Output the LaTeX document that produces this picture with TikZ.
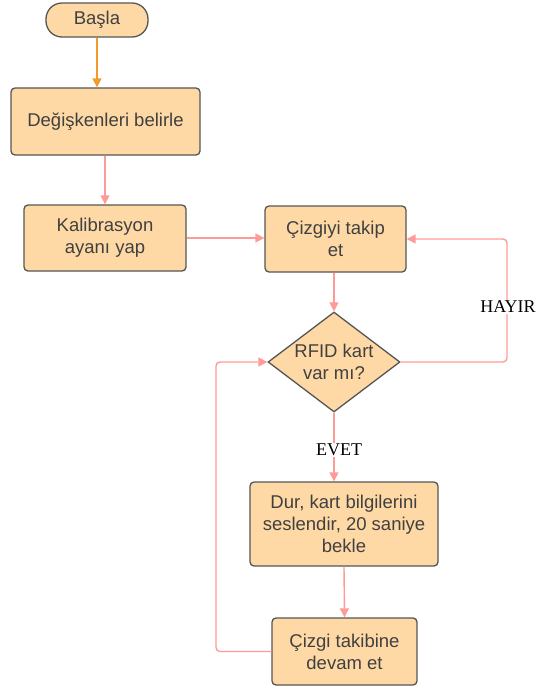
\documentclass[tikz,border=0pt]{standalone}
\usepackage{fontspec}
\setmainfont{Liberation Sans}
\newfontfamily\labelfont{Liberation Serif}
\usetikzlibrary{shapes.geometric,arrows.meta}
\definecolor{boxfill}{HTML}{FED9A6}
\definecolor{boxline}{HTML}{555555}
\definecolor{boxtext}{HTML}{404040}
\definecolor{pinkline}{HTML}{FF9B96}
\definecolor{orangeline}{HTML}{F39A2C}
\tikzset{
  procbox/.style={draw=boxline, line width=1.3pt, fill=boxfill, rounded corners=4pt,
    inner sep=0pt, align=center, text=boxtext,
    font=\fontsize{18.5}{22}\selectfont},
  startbox/.style={procbox, rounded corners=16pt},
  decbox/.style={draw=boxline, line width=1.3pt, fill=boxfill, shape=diamond, aspect=1.32,
    inner sep=0pt, align=center, text=boxtext, font=\fontsize{18.5}{22}\selectfont},
  arr/.style={draw=pinkline, line width=1.4pt, -{Triangle[length=9pt,width=9pt]}},
  arro/.style={draw=orangeline, line width=1.4pt, -{Triangle[length=9pt,width=9pt]}},
  lbl/.style={fill=white, inner sep=1pt, font=\labelfont\fontsize{18}{20}\selectfont, text=black}
}
\begin{document}
\begin{tikzpicture}[x=1pt,y=-1pt]
\useasboundingbox (0,0) rectangle (539,691);
\node[startbox, minimum width=102pt, minimum height=34pt] (start) at (97,20) {Başla};
\node[procbox, minimum width=189pt, minimum height=67pt] (n1) at (105.5,121.5) {Değişkenleri belirle};
\node[procbox, minimum width=162pt, minimum height=66pt] (n2) at (105,238) {Kalibrasyon\\ayanı yap};
\node[procbox, minimum width=141pt, minimum height=66pt] (n3) at (335.5,239) {Çizgiyi takip\\et};
\node[decbox, minimum width=132pt, minimum height=100pt] (d) at (334,362) {RFID kart\\var mı?};
\node[procbox, minimum width=188pt, minimum height=84pt] (n4) at (344,524) {Dur, kart bilgilerini\\seslendir, 20 saniye\\bekle};
\node[procbox, minimum width=145pt, minimum height=67pt] (n5) at (344.5,651.5) {Çizgi takibine\\devam et};
\coordinate (hr) at (507,239);
\coordinate (lf) at (216,651.5);

\draw[arro] (start.south) -- (start.south |- n1.north);
\draw[arr] (n2.north |- n1.south) -- (n2.north);
\draw[arr] (n2.east) -- (n2.east -| n3.west);
\draw[arr] (d.north |- n3.south) -- (d.north);
\draw[arr, rounded corners=4pt] (d.east) -- (d.east -| hr) -- (hr) -- (n3.east);
\node[lbl] (hayir) at (508,307) {HAYIR};
\draw[arr] (d.south) -- (d.south |- n4.north);
\node[lbl] (evet) at (339,450) {EVET};
\draw[arr] (n4.south) -- (n5.north);
\draw[arr, rounded corners=4pt] (n5.west) -- (lf) -- (lf |- d.west) -- (d.west);
\end{tikzpicture}
\end{document}
